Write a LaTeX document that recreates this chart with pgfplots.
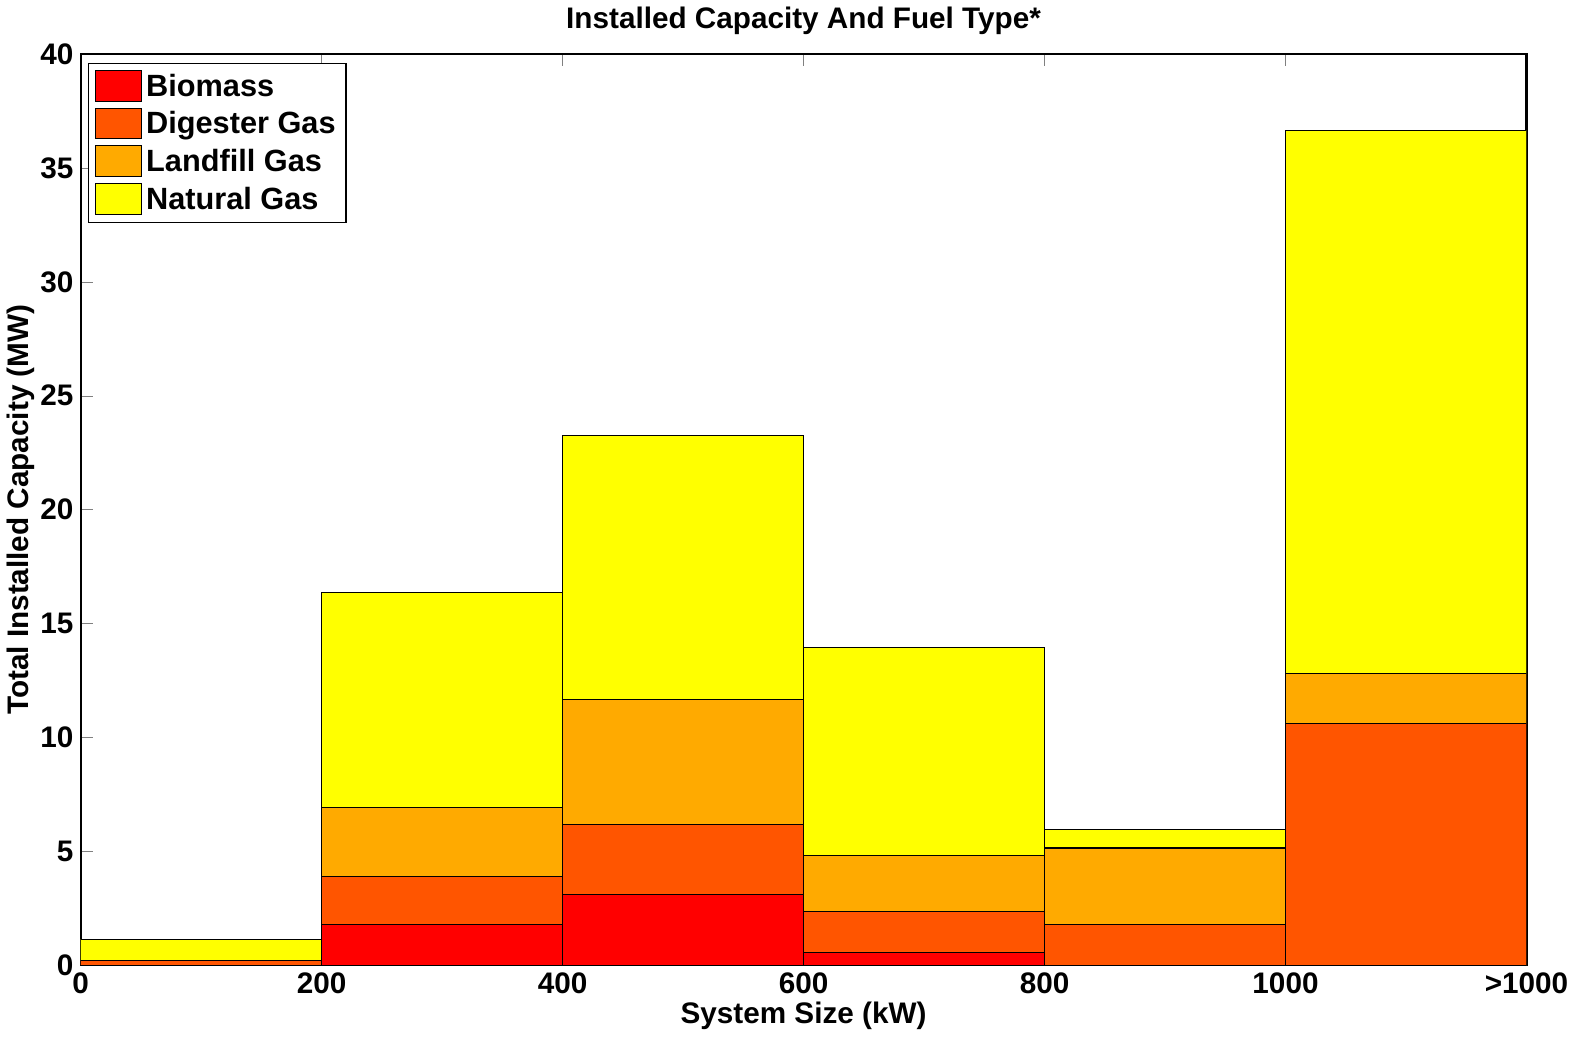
\documentclass[border=0pt]{standalone}
\usepackage{fontspec}
\setmainfont{Liberation Sans}
\usepackage{pgfplots}
\pgfplotsset{compat=1.18}
\definecolor{biom}{rgb}{1,0,0}
\definecolor{dig}{rgb}{1,0.333,0}
\definecolor{land}{rgb}{1,0.667,0}
\definecolor{ngas}{rgb}{1,1,0}
\begin{document}
\begin{tikzpicture}
\begin{axis}[
  scale only axis,
  width=706pt, height=445pt,
  ybar stacked, bar width=200,
  xmin=0, xmax=1200, ymin=0, ymax=40,
  xtick={0,200,400,600,800,1000,1200},
  xticklabels={0,200,400,600,800,1000,>1000},
  ytick={0,5,...,40},
  tick align=inside,
  major tick length=6pt,
  axis line style={line width=1pt},
  /pgf/number format/assume math mode=true,
  ticklabel style={font=\fontsize{14.5}{16}\selectfont\bfseries},
  label style={font=\fontsize{14.5}{16}\selectfont\bfseries},
  title style={font=\fontsize{14.5}{16}\selectfont\bfseries, yshift=0pt},
  title={Installed Capacity And Fuel Type*},
  xlabel={System Size (kW)},
  ylabel={Total Installed Capacity (MW)},
  xlabel style={yshift=3pt},
  ylabel style={yshift=-4pt},
  legend style={at={(0.005,0.99)}, anchor=north west, draw=black, line width=0.6pt,
    font=\fontsize{15}{17}\selectfont\bfseries, row sep=2pt, inner sep=3pt},
  legend cell align=left,
  legend image code/.code={\draw[#1, line width=0.4pt, draw=black] (0cm,-0.25cm) rectangle (0.8cm,0.28cm);},
  every axis plot/.append style={draw=black, line width=0.5pt},
]
\addplot[fill=biom] coordinates {(100,0) (300,1.78) (500,3.11) (700,0.58) (900,0) (1100,0)};
\addplot[fill=dig] coordinates {(100,0.22) (300,2.14) (500,3.07) (700,1.80) (900,1.81) (1100,10.63)};
\addplot[fill=land] coordinates {(100,0) (300,3.02) (500,5.48) (700,2.44) (900,3.34) (1100,2.18)};
\addplot[fill=ngas] coordinates {(100,0.93) (300,9.43) (500,11.58) (700,9.11) (900,0.81) (1100,23.84)};
\legend{Biomass, Digester Gas, Landfill Gas, Natural Gas}
\end{axis}
\end{tikzpicture}
\end{document}
